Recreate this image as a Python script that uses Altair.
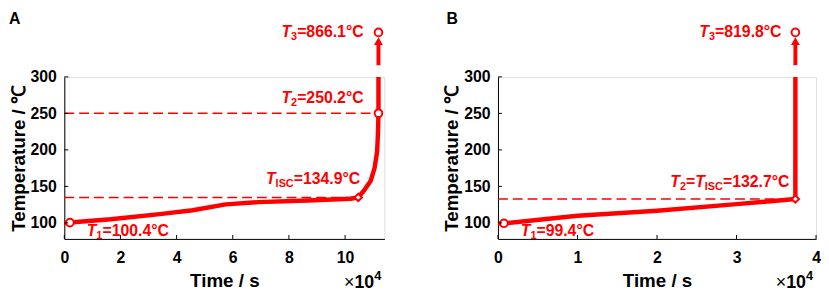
import altair as alt
import pandas as pd

# ---------------- data ----------------
# Panel A
a_time = [0, 0.2, 1.65, 3.4, 4.57, 5.75, 6.92, 8.68, 10.2, 10.47, 10.67, 10.91, 11.05, 11.14, 11.17, 11.19, 11.19]
a_temp = [99.8, 100.4, 104.9, 112.0, 117.3, 125.3, 128.4, 130.7, 133.0, 134.9, 144.0, 157.3, 175.1, 197.3, 220.0, 250.2, 300.0]
a_t1_time, a_t1 = 0.2, 100.4
a_isc_time, a_isc = 10.47, 134.9
a_t2_time, a_t2 = 11.19, 250.2
a_t3 = 866.1
a_xticks = [0, 2, 4, 6, 8, 10]
a_xmax = 11.4

# Panel B
b_time = [0, 0.075, 1, 2, 3, 3.74, 3.74]
b_temp = [99.0, 99.4, 109.7, 116.7, 125.7, 132.7, 300.0]
b_t1_time, b_t1 = 0.075, 99.4
b_isc_time, b_isc = 3.74, 132.7
b_t3 = 819.8
b_xticks = [0, 1, 2, 3, 4]
b_xmax = 4

y_ticks = [100, 150, 200, 250, 300]
y_min, y_max = 78, 300

# broken-axis display positions (above the axis top) for T3 marker / arrow
BREAK_RESUME, ARROW_HEAD, T3_POS = 316, 349, 361

# ---------------- style ----------------
RED = "#ff0000"
FONT = "Liberation Sans"
W, H = 324, 164
WB = 322
MAIN, SUB = 16, 11

CW = {"T": 611, "=": 584, ".": 278, "°": 400, "C": 722, "I": 278, "S": 667, "×": 584}


def tw(s, size):
    return sum(CW.get(c, 556) for c in s) * size / 1000.0


def panel(letter, letter_dx, curve_t, curve_v, xticks, xmax, width, markers, diamond, dashes,
          t3_time, labels, ytitle_pad):
    xs = alt.Scale(domain=[0, xmax], nice=False, zero=False)
    ys = alt.Scale(domain=[y_min, y_max], nice=False, zero=False)
    xax = alt.Axis(values=xticks, title="Time / s", ticks=False, tickSize=0, grid=False,
                   labelFontSize=16, labelFontWeight="bold", labelFont=FONT, labelColor="black",
                   titleFontSize=19, titleFontWeight="bold", titleFont=FONT, titleColor="black",
                   domainColor="black", domainWidth=1, labelPadding=11, titlePadding=6,
                   labelFlush=False, labelOverlap=False)
    yax = alt.Axis(values=y_ticks, title="Temperature / ℃", ticks=False, tickSize=0, grid=False,
                   labelFontSize=16, labelFontWeight="bold", labelFont=FONT, labelColor="black",
                   titleFontSize=19, titleFontWeight="bold", titleFont=FONT, titleColor="black",
                   domainColor="black", domainWidth=1, labelPadding=8, titlePadding=ytitle_pad,
                   labelFlush=False, labelOverlap=False)
    X = alt.X("t:Q", scale=xs, axis=xax)
    Y = alt.Y("v:Q", scale=ys, axis=yax)

    layers = []
    # dashed reference lines
    ddf = pd.DataFrame({"t": [0] * len(dashes), "t2": [d[0] for d in dashes],
                        "v": [d[1] for d in dashes]})
    layers.append(alt.Chart(ddf).mark_rule(color=RED, strokeWidth=1.5, strokeDash=[10, 5])
                  .encode(x=X, x2="t2:Q", y=Y))
    # main curve
    cdf = pd.DataFrame({"t": curve_t, "v": curve_v, "i": list(range(len(curve_t)))})
    layers.append(alt.Chart(cdf).mark_line(color=RED, strokeWidth=4.5, strokeCap="butt",
                                           strokeJoin="round")
                  .encode(x=X, y=Y, order="i:Q"))
    # arrow after axis break
    adf = pd.DataFrame({"t": [t3_time], "v": [BREAK_RESUME], "v2": [ARROW_HEAD - 4]})
    layers.append(alt.Chart(adf).mark_rule(color=RED, strokeWidth=4)
                  .encode(x=X, y=Y, y2="v2:Q"))
    hdf = pd.DataFrame({"t": [t3_time], "v": [ARROW_HEAD]})
    layers.append(alt.Chart(hdf).mark_point(shape="triangle-up", filled=True, color=RED,
                                            size=80, opacity=1)
                  .encode(x=X, y=Y))
    # circle markers
    mdf = pd.DataFrame({"t": [m[0] for m in markers], "v": [m[1] for m in markers]})
    layers.append(alt.Chart(mdf).mark_point(shape="circle", fill="white", stroke=RED,
                                            strokeWidth=2, size=60, opacity=1, fillOpacity=1)
                  .encode(x=X, y=Y))
    # diamond marker
    ddm = pd.DataFrame({"t": [diamond[0]], "v": [diamond[1]]})
    layers.append(alt.Chart(ddm).mark_point(shape="diamond", fill="white", stroke=RED,
                                            strokeWidth=2, size=55, opacity=1, fillOpacity=1)
                  .encode(x=X, y=Y))
    # inward ticks
    xt = pd.DataFrame({"t": xticks})
    layers.append(alt.Chart(xt).mark_rule(color="black", strokeWidth=1)
                  .encode(x=X, y=alt.value(H), y2=alt.value(H - 4)))
    yt = pd.DataFrame({"v": y_ticks})
    layers.append(alt.Chart(yt).mark_rule(color="black", strokeWidth=1)
                  .encode(y=Y, x=alt.value(0), x2=alt.value(4)))
    # rich-text annotations
    for lab in labels:
        total = 0
        widths = []
        for txt, kind in lab["pieces"]:
            w = tw(txt, SUB if kind == "sub" else MAIN)
            widths.append(w)
            total += w
        start = lab["start"] if "start" in lab else lab["end"] - total
        cur = start
        for (txt, kind), w in zip(lab["pieces"], widths):
            tdf = pd.DataFrame({"t": [lab["x"]], "v": [lab["y"]], "s": [txt]})
            size = SUB if kind == "sub" else MAIN
            dy = lab["dy"] + (3 if kind == "sub" else 0)
            layers.append(alt.Chart(tdf).mark_text(
                align="left", baseline="alphabetic", dx=cur, dy=dy, fontSize=size,
                fontStyle="italic" if kind == "it" else "normal", fontWeight="bold",
                font=FONT, color=RED).encode(x=X, y=Y, text="s:N"))
            cur += w
    # x10^4 multiplier
    e4 = 7.3
    ten = 20.0
    layers.append(alt.Chart(pd.DataFrame({"s": ["×"]})).mark_text(
        align="left", baseline="alphabetic", fontSize=18, font=FONT, color="black")
        .encode(x=alt.value(width - 3 - e4 - ten - 10.5), y=alt.value(H + 50), text="s:N"))
    layers.append(alt.Chart(pd.DataFrame({"s": ["10"]})).mark_text(
        align="left", baseline="alphabetic", fontSize=18, fontWeight="bold", font=FONT,
        color="black").encode(x=alt.value(width - 3 - e4 - ten), y=alt.value(H + 50), text="s:N"))
    layers.append(alt.Chart(pd.DataFrame({"s": ["4"]})).mark_text(
        align="left", baseline="alphabetic", fontSize=13, fontWeight="bold", font=FONT,
        color="black").encode(x=alt.value(width - 3 - e4), y=alt.value(H + 42), text="s:N"))
    # panel letter
    layers.append(alt.Chart(pd.DataFrame({"s": [letter]})).mark_text(
        align="left", baseline="top", fontSize=16, fontWeight="bold", font=FONT,
        color="black").encode(x=alt.value(letter_dx), y=alt.value(-67), text="s:N"))

    return alt.layer(*layers).properties(width=width, height=H)


def lab(x, y, pieces, dy, start=None, end=None):
    d = {"x": x, "y": y, "pieces": pieces, "dy": dy}
    if start is not None:
        d["start"] = start
    else:
        d["end"] = end
    return d


labels_a = [
    lab(a_t1_time, a_t1, [("T", "it"), ("1", "sub"), (f"={a_t1}°C", "main")], 14, start=17),
    lab(a_isc_time, a_isc, [("T", "it"), ("ISC", "sub"), (f"={a_isc}°C", "main")], -14, end=2),
    lab(a_t2_time, a_t2, [("T", "it"), ("2", "sub"), (f"={a_t2}°C", "main")], -10, end=-15),
    lab(a_t2_time, T3_POS, [("T", "it"), ("3", "sub"), (f"={a_t3}°C", "main")], 5, end=-15),
]
labels_b = [
    lab(b_t1_time, b_t1, [("T", "it"), ("1", "sub"), (f"={b_t1}°C", "main")], 13, start=17),
    lab(b_isc_time, b_isc, [("T", "it"), ("2", "sub"), ("=", "main"), ("T", "it"),
                            ("ISC", "sub"), (f"={b_isc}°C", "main")], -12, end=-6),
    lab(b_isc_time, T3_POS, [("T", "it"), ("3", "sub"), (f"={b_t3}°C", "main")], 5, end=-14),
]

pa = panel("A", -56, a_time, a_temp, a_xticks, a_xmax, W,
           markers=[(a_t1_time, a_t1), (a_t2_time, a_t2), (a_t2_time, T3_POS)],
           diamond=(a_isc_time, a_isc),
           dashes=[(a_t2_time, a_t2), (a_isc_time, a_isc)],
           t3_time=a_t2_time, labels=labels_a, ytitle_pad=2)
pb = panel("B", -52, b_time, b_temp, b_xticks, b_xmax, WB,
           markers=[(b_t1_time, b_t1), (b_isc_time, T3_POS)],
           diamond=(b_isc_time, b_isc),
           dashes=[(b_isc_time, b_isc)],
           t3_time=b_isc_time, labels=labels_b, ytitle_pad=2)

chart = alt.hconcat(pa, pb, spacing=115, bounds="flush").properties(
    padding={"left": 0, "top": 0, "right": 0, "bottom": 0}
).configure_view(stroke=None).configure(background="white")

chart.save("out.html", embed_options={"renderer": "svg", "actions": False})
